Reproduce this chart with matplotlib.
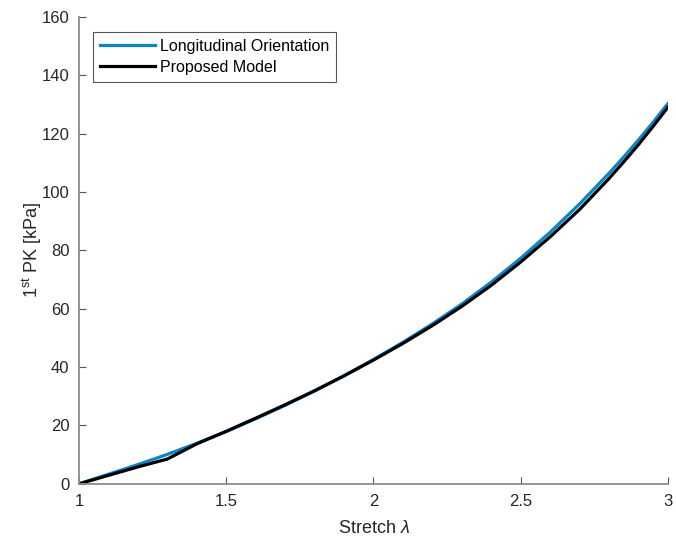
import numpy as np
import matplotlib
matplotlib.use("Agg")
import matplotlib.pyplot as plt

plt.rcParams['font.family'] = ['Liberation Sans', 'DejaVu Sans']
plt.rcParams['mathtext.fontset'] = 'custom'
plt.rcParams['mathtext.rm'] = 'Liberation Sans'
plt.rcParams['mathtext.it'] = 'Liberation Sans:italic'

# stretch values
stretch = [1.0, 1.1, 1.2, 1.3, 1.4, 1.5, 1.6, 1.7, 1.8, 1.9, 2.0,
           2.1, 2.2, 2.3, 2.4, 2.5, 2.6, 2.7, 2.8, 2.85, 2.9, 2.95, 3.0]
# experimental curve, longitudinal orientation [kPa]
longitudinal = [0.0, 3.3, 6.6, 10.1, 13.9, 17.9, 22.3, 26.9, 31.8, 37.0, 42.6,
                48.5, 54.8, 61.6, 69.1, 77.3, 86.2, 95.9, 106.4, 112.0, 117.8, 123.9, 130.3]
# model fit [kPa]
model = [0.0, 2.9, 5.8, 8.5, 13.7, 18.0, 22.5, 27.1, 31.9, 37.0, 42.4,
         48.1, 54.2, 60.8, 68.0, 76.0, 84.6, 94.0, 104.6, 110.3, 116.2, 122.5, 129.0]

fig = plt.figure(figsize=(6.76, 5.43), dpi=100)
ax = fig.add_axes([0.117, 0.109, 0.871, 0.860])

ax.plot(stretch, longitudinal, color='#0A86C8', lw=2.3, label='Longitudinal Orientation')
ax.plot(stretch, model, color='black', lw=2.3, label='Proposed Model')

ax.set_xlim(1, 3)
ax.set_ylim(0, 160)
ax.set_xticks([1, 1.5, 2, 2.5, 3])
ax.set_xticklabels(['1', '1.5', '2', '2.5', '3'])
ax.set_yticks(np.arange(0, 161, 20))

for s in ['top', 'right']:
    ax.spines[s].set_visible(False)
for s in ['left', 'bottom']:
    ax.spines[s].set_color('#8c8c8c')
    ax.spines[s].set_linewidth(1.3)
ax.tick_params(direction='in', length=5, width=0.8, color='#555555',
               labelcolor='#262626', labelsize=12, pad=7)

ax.set_xlabel(r'Stretch $\lambda$', fontsize=13, color='#262626', labelpad=8)
ax.set_ylabel(r'1$^{\mathrm{st}}$ PK [kPa]', fontsize=13, color='#262626', labelpad=-2)

leg = ax.legend(loc='upper left', bbox_to_anchor=(0.024, 0.968), fontsize=11.5,
                fancybox=False, framealpha=1, edgecolor='#555555',
                handlelength=3.4, borderpad=0.45, labelspacing=0.35, handletextpad=0.3,
                borderaxespad=0)
leg.get_frame().set_linewidth(0.8)

fig.savefig('out.png', dpi=100)
